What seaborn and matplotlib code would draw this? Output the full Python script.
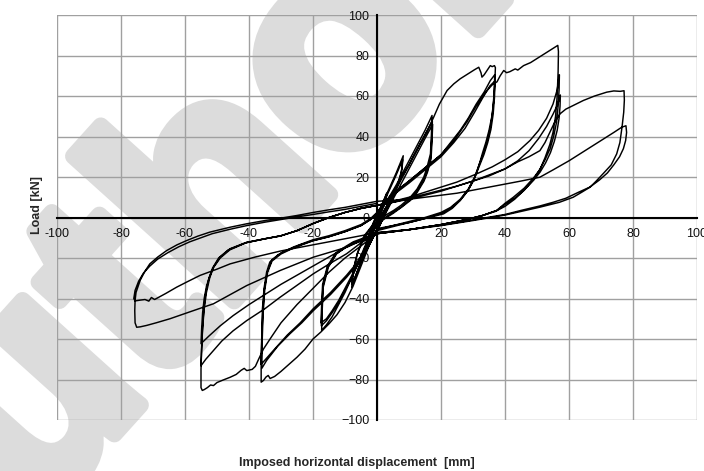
import numpy as np
import pandas as pd
import seaborn as sns
import matplotlib.pyplot as plt
import matplotlib.patheffects as pe
from matplotlib.ticker import FuncFormatter

# Cyclic test: imposed displacement [mm] vs load [kN]
# small cycles (+-3 and +-9 mm)
DISP_SMALL = [0, 1.5, 3, 2.5, 1, 0, -1.5, -3, -2.5, -1, 0, 1.5, 3, 2.4, 1, 0, -1.5, -3, -2.4, -1, 0,
              2, 4, 6, 8.2, 7.8, 6.5, 4, 1.5, 0, -2, -4, -6, -7.9, -7.5, -6.2, -4, -1.5, 0,
              2, 4, 6, 8, 7.6, 6.2, 4, 1.5, 0, -2, -4, -6, -7.8, -7.3, -6, -4, -1.5, 0]
LOAD_SMALL = [0, 5, 11, 7, 2, -2, -6, -12, -8, -3, 1, 6, 12, 7, 2, -2, -7, -13, -8, -2, 1,
              8, 15, 22, 30.5, 24, 16, 8, 2, -2, -9, -17, -26, -34.4, -27, -18, -10, -4, 1,
              7, 14, 21, 28.5, 22, 15, 7, 1, -3, -10, -18, -26, -33, -25, -17, -9, -4, 0]

# +-18 mm, three cycles
DISP_18 = [3, 6, 9, 12, 15, 17.2, 17, 16.7, 15.5, 14.6, 12.5, 10.4, 7.5, 5.2, 2.5, 0,
           -2, -4, -6, -8, -10, -12, -14, -15.8, -17.3, -17.1, -16.8, -15.2, -12.6, -10, -7.4, -4, -1.2, 0,
           2, 4, 6, 9, 12, 15, 17.3, 17.1, 16.8, 15.7, 14.6, 12.5, 10.4, 7.5, 5, 2.5, 0,
           -2, -4, -6, -8, -10, -12, -14, -15.8, -17.4, -17.2, -16.9, -15.4, -12.8, -10, -7.4, -4, -1.2, 0,
           2, 4, 6, 9, 12, 15, 17.4, 17.2, 16.9, 15.8, 14.7, 12.6, 10.5, 7.6, 5, 2.5, 0,
           -2, -4, -6, -8, -10, -12, -14, -15.8, -17.5, -17.3, -17, -15.5, -12.9, -10, -7.4, -4, -1.2, 0]
LOAD_18 = [8, 16, 25, 34, 43, 50.4, 41, 31.4, 24, 19.9, 14, 10, 6, 3.5, 1, -2,
           -8, -15, -23, -30, -37, -43, -49, -53, -55.8, -45, -34.4, -24.5, -17.9, -15, -13, -11, -9.7, -7,
           0, 7, 14, 23, 32, 41, 47.5, 39, 30, 23, 18.5, 13, 9, 5, 2.5, 0, -3,
           -9, -16, -23, -30, -36, -42, -47, -51, -53.5, -44, -34, -24.5, -18, -15, -12.5, -10.5, -9, -7,
           0, 6, 12, 21, 30, 39, 46, 38, 29, 22.5, 18, 12.5, 8.5, 5, 2, -0.5, -3.5,
           -9, -16, -22, -29, -35, -41, -46, -50, -52, -43, -33, -24, -17.5, -14.5, -12, -10, -8.5, -6]

# +-37 mm, three cycles
DISP_37 = [2, 4, 7, 10, 13, 15.5, 17.7, 19.5, 21.9, 24, 26, 28.5, 30.5, 31.8, 32.5, 32.8, 33.5, 34.4, 35.4, 36, 36.7, 37,
           36.8, 36.5, 35.9, 35, 34, 33, 32.3, 31.2, 30.2, 28.2, 26, 23.5, 20.8, 15, 10, 5, 0,
           -2.5, -5, -7.5, -10, -12.5, -15, -17.5, -20, -22.5, -25, -27.5, -30, -32, -33.4, -34, -34.7, -35.5, -36.2,
           -36.2, -36, -35.8, -35.3, -34.5, -33.5, -31, -28.2, -24, -20, -15, -10, -5, -2, 0, 2,
           5, 10, 15, 20, 23, 26, 28.5, 31, 33.5, 35.4, 36.8,
           36.6, 36.2, 35.5, 34.5, 33.3, 32, 30.5, 28.5, 26, 23, 20, 15, 10, 5, 0,
           -2.5, -5, -9.5, -14.5, -19.9, -23.5, -27.2, -31, -34.5, -36,
           -35.9, -35.6, -35.1, -34.2, -32.8, -30, -26, -20, -15, -10, -5, -2, 0, 2,
           5, 10, 15, 20, 24, 27.5, 30.5, 33, 35.3, 36.9,
           36.7, 36.3, 35.6, 34.6, 33.4, 32, 30.5, 28.5, 26, 23, 20, 15, 10, 5, 0,
           -2.5, -5, -9.5, -14.5, -19.9, -24, -28, -32, -34.8, -36.2,
           -36, -35.7, -35.2, -34.3, -32.9, -30, -26, -20, -15, -10, -5, -2, 0, 2]
LOAD_37 = [2, 9, 18, 26, 35, 42, 49.5, 56, 62.7, 66, 68.5, 71, 73, 74.2, 71.5, 69.3, 70.5, 72.6, 75, 74.5, 75, 74,
           66, 58, 50, 43, 37, 32, 28.1, 22.5, 18.3, 12.8, 8.4, 4.5, 1.8, -0.5, -2.5, -4, -5.5,
           -14, -24, -34, -42, -48, -52.5, -56.5, -60, -65, -69, -72.5, -76, -78.5, -79.5, -78, -78.8, -80.5, -81.3,
           -70, -58, -45, -35, -27, -22, -18.5, -16.3, -13.5, -11.4, -9.5, -7, -4, -1, 2, 7,
           12, 18, 24.5, 31, 37, 43, 49, 56, 62, 67.6, 70.5,
           62, 53, 45, 38, 32, 26.5, 20, 14, 9, 5, 2.5, 0, -2, -4, -6,
           -14, -21, -29.5, -38, -46, -52, -57.4, -63.5, -70.6, -74.5,
           -62, -48, -36, -27, -21.5, -18, -15, -11.5, -9.5, -7, -4, -1, 2, 6,
           11, 17, 23.5, 30, 37, 44, 52, 59, 65, 67.5,
           59, 51, 43.5, 37, 31, 25.5, 19.5, 13.5, 8.5, 4.5, 2, -0.5, -2.5, -4.5, -6.5,
           -13.5, -20, -28.5, -37, -45, -52, -58, -65, -70, -72.5,
           -60, -47, -35.5, -27, -21, -17.5, -14.5, -11, -9, -6.5, -3.5, -0.5, 2.5, 6.5]

# +-56 mm, three cycles
DISP_56 = [5, 10, 15, 20, 24, 28, 31, 34, 36, 37.5, 38.5, 39.6, 40.5, 41.5, 43.2, 44, 45.8, 48, 50, 52, 54, 55.5, 56.5, 56.7,
           56.6, 56.3, 55.8, 55, 54, 52.5, 51, 49, 46, 43, 40, 37, 33, 28, 20, 10, 0,
           -5, -10, -15, -20, -25, -30, -33, -35.5, -37, -38, -39, -40.7, -41.5, -42.5, -44, -45.9, -48, -50, -51.1,
           -52, -53, -54, -54.6, -55,
           -55, -54.8, -54.5, -54, -53.3, -52.3, -51.1, -49, -45.9, -40.7, -35, -30.3, -25, -20, -15, -10, -5, 0,
           5, 10, 15, 20, 25, 31.2, 36, 40, 44, 47.8, 50.5, 53, 55, 56.3, 57,
           56.9, 56.6, 56.1, 55.2, 54.1, 52.5, 50.8, 48.9, 46, 42.6, 40, 37.4, 33, 28, 20, 10, 0,
           -5, -9.5, -15, -19.9, -25, -30.3, -35, -40.7, -45, -48.5, -51.1, -53.5, -55,
           -54.8, -54.5, -54.1, -53.5, -52.6, -51.4, -49.5, -46.5, -41, -35, -30, -25, -20, -15, -10, -5, 0,
           5, 10, 15, 20, 25, 30, 35, 40, 44, 47.5, 50.5, 53, 55, 56.5, 57.3,
           57.2, 56.9, 56.3, 55.4, 54.2, 52.7, 51, 49, 46, 43, 40, 37.5, 33, 28, 20, 10, 0,
           -5, -10, -15, -20, -25, -30, -35, -40, -45, -49, -52.5, -55,
           -54.8, -54.5, -54, -53.3, -52.3, -51, -49, -46, -41, -35, -30, -25, -20, -15, -10, -5, 0]
LOAD_56 = [11.5, 18, 24.5, 31, 38, 47, 55, 62, 65.5, 67, 70, 72.6, 71.5, 72, 73.4, 72.8, 75, 76.5, 78.5, 80.5, 82.5, 84, 85, 82,
           72, 60, 50, 42, 36, 29.5, 24, 19, 13.5, 9, 5.5, 3, 1, -1, -3.5, -6, -8,
           -14, -20, -27, -35, -43, -52, -59, -65, -70, -73.5, -75, -75.6, -74.5, -75.5, -77.5, -78.9, -80.2, -81.5, -83,
           -82.7, -84, -85, -85.4, -84,
           -75, -65, -55, -45, -37, -30, -24.5, -19.5, -15.4, -12.2, -10.5, -9.2, -6.5, -3, 0, 2.5, 4.5, 6,
           8, 10, 12.5, 15, 17.5, 21.6, 25, 28.5, 32.5, 38, 43, 49, 56, 63, 70.5,
           63, 55, 47, 40, 34, 28.5, 23.5, 19.5, 14.5, 10, 7, 3.5, 1, -1, -3.5, -6, -8,
           -12.5, -17.9, -23, -27.8, -33.5, -39.4, -45, -50.9, -56, -61, -65.7, -70, -73.2,
           -64, -54, -45, -37, -30.5, -25, -20, -16, -12.5, -10.5, -9, -6.5, -3, 0, 2.5, 4.5, 6,
           7.5, 9.5, 11.5, 13.5, 15.5, 18, 20.5, 24, 28, 33, 39, 45, 51, 56, 60.5,
           55, 49, 43, 37.5, 32, 27, 22.5, 18.5, 13.5, 9.5, 6.5, 3.5, 1, -1, -3.5, -6, -7.5,
           -11, -15, -19.5, -24, -28.5, -33, -38, -43, -48.5, -53.5, -58.5, -62.3,
           -55, -47, -40, -34, -29, -24.5, -20, -16, -12.5, -10.5, -9, -6.5, -3, 0, 2.5, 4.5, 6]

# +-77 mm, two cycles
DISP_77 = [5, 10, 15, 20, 25, 30, 35, 40, 44, 47.5, 50.9, 52.5, 54, 55.5, 57.2, 59, 61.3, 64.5, 68, 71.8, 74, 76, 77.2, 77.3,
           77.1, 76.6, 75.9, 74.9, 73.2, 70.7, 68.5, 66.6, 64, 61.3, 57, 50.9, 45, 40, 30, 20, 10, 0,
           -9.5, -19.9, -30.3, -40.7, -51.1, -57.4, -64.7, -69, -72, -74, -75.1, -75.6, -75.7, -75.6,
           -75.3, -74, -72.5, -71, -68.5, -65.7, -62.5, -59.5, -56, -52.2, -45.9, -40.7, -35, -30, -25, -19.9, -15, -10, -5, 0,
           5, 10, 15, 20, 25, 30, 35, 40, 45, 50.9, 55, 60, 65, 70, 74, 76.5, 77.8, 78,
           77.7, 77, 75.8, 74, 72, 69.5, 66.5, 63, 59, 55, 50.9, 45, 40, 30, 20, 10, 0,
           -10, -20, -30, -38, -45.9, -50, -55.3, -59, -62.6, -66, -69.5, -70.5, -71.3, -72.5, -74, -75.6, -76,
           -75.6, -74.5, -73, -71, -68.5, -65.5, -62, -58.5, -55, -51.5, -45.9, -40.7, -35, -30, -25, -20, -15, -10, -5, 0]
LOAD_77 = [7.5, 9, 11, 13, 15.5, 18, 21, 24, 27.5, 30, 33, 37, 42, 47, 51.2, 53.5, 55.3, 57.8, 60, 61.9, 62.5, 62.3, 62.6, 58,
           52, 45, 37, 31.4, 26, 21.7, 18, 15, 12.5, 10, 7.5, 5.1, 3, 1.2, -1.5, -4, -6, -8,
           -14.7, -19.6, -26.2, -33.6, -42.6, -46, -50, -52, -53.3, -54, -54.2, -52, -46, -41,
           -37, -31, -26.5, -22.9, -19.5, -16.3, -13.5, -11.4, -9.2, -7.2, -4.8, -3.1, -1.5, -0.3, 1, 2.5, 3.8, 5, 6.5, 8,
           8.5, 9, 10, 11, 12, 13.5, 15, 16.5, 18, 19.9, 23.5, 28, 33, 38, 42, 44.6, 45.3, 42,
           38, 34, 30, 26, 22, 18.5, 15, 12.5, 9.5, 7.5, 5.7, 3.5, 1.5, -1.2, -3.8, -6, -7.5,
           -10.5, -13.5, -16.5, -19.5, -22.9, -25.5, -28.6, -31.5, -34.4, -37.5, -40.5, -39.5, -41.3, -40.5, -40.8, -41.2, -40,
           -36, -31.5, -27.5, -24, -20.5, -17.5, -14.5, -12, -10, -8, -5.8, -4, -2.3, -1, 0.3, 1.5, 2.8, 4, 5.5, 7]

X_TICKS = list(range(-100, 101, 20))
Y_TICKS = list(range(-100, 101, 20))

df = pd.DataFrame({
    "disp": DISP_SMALL + DISP_18 + DISP_37 + DISP_56 + DISP_77,
    "load": LOAD_SMALL + LOAD_18 + LOAD_37 + LOAD_56 + LOAD_77,
})

sns.set_theme(style="white")
plt.rcParams["font.family"] = ["Liberation Sans", "DejaVu Sans"]

fig = plt.figure(figsize=(7.04, 4.71), dpi=100)
fig.patch.set_facecolor("white")
ax = fig.add_axes([57 / 704, 1 - 420 / 471, 640 / 704, 405 / 471])
ax.set_facecolor("none")

# faint watermark behind the chart
fig.text(0.305, 0.315, "Author", rotation=48, rotation_mode="anchor", ha="center", va="baseline",
         fontsize=215, fontweight="bold", color="#dcdcdc", zorder=-5,
         path_effects=[pe.withStroke(linewidth=12, foreground="#dcdcdc")])

sns.lineplot(data=df, x="disp", y="load", sort=False, estimator=None,
             color="black", lw=1.05, ax=ax, zorder=3)

ax.set_xlim(-100, 100)
ax.set_ylim(-100, 100)
ax.set_xticks(X_TICKS)
ax.set_yticks(Y_TICKS)
ax.xaxis.set_major_formatter(FuncFormatter(lambda v, p: "" if v == 0 else f"{v:g}"))

ax.grid(True, color="#a0a0a0", lw=1.0)
for gl in ax.get_xgridlines() + ax.get_ygridlines():
    gl.set_clip_on(False)

for side in ["top", "right"]:
    ax.spines[side].set_visible(False)
for side in ["left", "bottom"]:
    ax.spines[side].set_position(("data", 0))
    ax.spines[side].set_color("black")
    ax.spines[side].set_linewidth(1.5)
    ax.spines[side].set_zorder(4)

ax.tick_params(axis="both", which="major", direction="inout", length=5, width=1,
               color="black", labelsize=9, labelcolor="#111111", pad=3)
ax.tick_params(axis="x", pad=5)

ax.set_xlabel("Imposed horizontal displacement  [mm]", fontsize=9, fontweight="bold",
              family=["Liberation Sans Narrow", "Liberation Sans"])
ax.xaxis.set_label_coords(0.469, -0.106)
ax.xaxis.label.set_va("center")
ax.set_ylabel("Load [kN]", fontsize=9, fontweight="bold")
ax.yaxis.set_label_coords(-0.031, 0.53)
ax.yaxis.label.set_va("center")

fig.savefig("out.png", dpi=100)
